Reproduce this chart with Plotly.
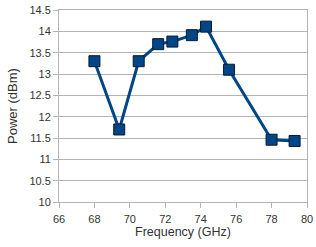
import plotly.graph_objects as go

freq_ghz = [68.0, 69.4, 70.5, 71.6, 72.4, 73.5, 74.3, 75.6, 78.0, 79.3]
power_dbm = [13.3, 11.7, 13.3, 13.7, 13.76, 13.91, 14.11, 13.1, 11.46, 11.43]

x_ticks = [66, 68, 70, 72, 74, 76, 78, 80]
y_ticks = [10, 10.5, 11, 11.5, 12, 12.5, 13, 13.5, 14, 14.5]

fig = go.Figure(go.Scatter(
    x=freq_ghz, y=power_dbm, mode="lines+markers",
    line=dict(color="#004586", width=3),
    marker=dict(symbol="square", size=11, color="#004586",
                line=dict(color="#0b1a2e", width=1)),
))

axis_common = dict(
    showline=True, linecolor="#b3b3b3", linewidth=1, mirror=True,
    ticks="outside", ticklen=5, tickcolor="#b3b3b3",
    tickfont=dict(family="Liberation Sans", size=11, color="#333333"),
    zeroline=False, automargin=False,
)

fig.update_layout(
    width=316, height=247,
    margin=dict(l=59, r=9, t=10, b=45),
    paper_bgcolor="white", plot_bgcolor="white",
    showlegend=False,
    font=dict(family="Liberation Sans", size=12, color="#333333"),
    xaxis=dict(range=[66, 80], tickvals=x_ticks, showgrid=False,
               ticklabelstandoff=2,
               title=dict(text="Frequency (GHz)", standoff=3,
                          font=dict(size=12.5, color="#333333")),
               **axis_common),
    yaxis=dict(range=[10, 14.5], tickvals=y_ticks,
               ticktext=[f"{v:g}" for v in y_ticks],
               showgrid=True, gridcolor="#b3b3b3", gridwidth=1,
               title=dict(text="Power (dBm)", standoff=8,
                          font=dict(size=13, color="#333333")),
               **axis_common),
)

fig.write_html("out.html", config={"displayModeBar": False},
               post_script="document.body.style.margin='0';document.body.style.overflow='hidden';")
